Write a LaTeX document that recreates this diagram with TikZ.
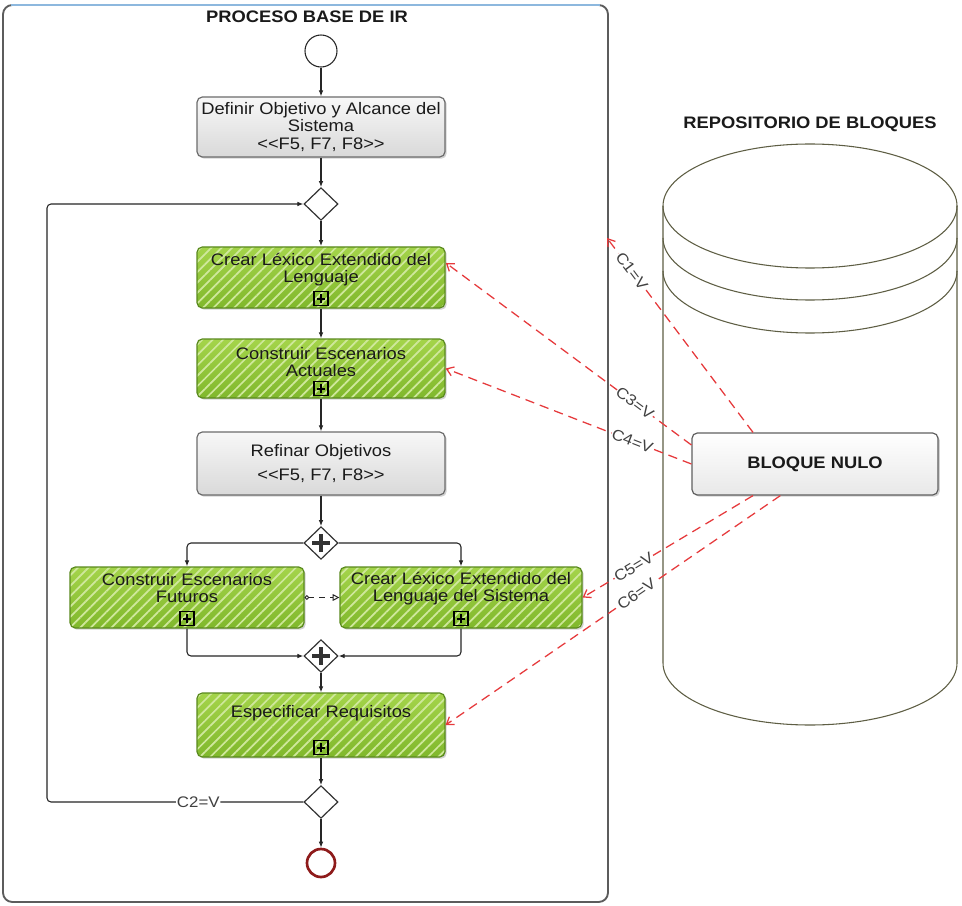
\documentclass[tikz,border=0pt]{standalone}
\usepackage{fontspec}
\setmainfont{Liberation Sans}[FakeStretch=1.1]
\usetikzlibrary{arrows.meta,shapes.geometric,shadows,patterns.meta}
\definecolor{txtc}{HTML}{1A1A1A}
\definecolor{greenA}{HTML}{A4D44A}
\definecolor{greenB}{HTML}{80B82C}
\definecolor{greenBd}{HTML}{5A8A1E}
\definecolor{greenStripe}{HTML}{CFE89C}
\definecolor{reddash}{HTML}{E63A3C}
\definecolor{poolgray}{HTML}{5C5C5C}
\definecolor{poolblue}{HTML}{8DB8DE}
\definecolor{cylc}{HTML}{5E5E44}
\definecolor{endred}{HTML}{8E1B1B}
\newcommand\flist{<\kern0pt<F5, F7, F8>\kern0pt>}
\begin{document}
\begin{tikzpicture}[x=0.75pt,y=-0.75pt,
  txt/.style={font=\fontsize{12.5}{12.8}\selectfont, text=txtc, align=center, inner sep=0pt},
  titletxt/.style={font=\fontsize{12.5}{13}\selectfont\bfseries, text=txtc, inner sep=0pt},
  boxshadow/.style={drop shadow={shadow xshift=1.3pt, shadow yshift=-1.3pt, opacity=0.35}},
  greentask/.style={rounded corners=4pt, draw=greenBd, line width=0.9pt, boxshadow,
     preaction={top color=greenA, bottom color=greenB},
     pattern={Lines[angle=45,distance=5.5pt,line width=1.3pt]}, pattern color=greenStripe,
     minimum width=186pt, minimum height=45pt, inner sep=0pt},
  graytask/.style={rounded corners=4pt, draw=gray!85!black, line width=0.9pt, boxshadow,
     top color=gray!6, bottom color=gray!30, minimum width=186pt, minimum height=45pt,
     txt},
  bntask/.style={rounded corners=4pt, draw=gray!75!black, line width=0.9pt, boxshadow,
     top color=white, bottom color=gray!18, minimum width=184.5pt, minimum height=46.5pt,
     txt},
  plusbox/.style={draw=black, line width=0.9pt, minimum size=10.5pt, inner sep=0pt,
     path picture={\draw[line width=1.6pt]
        ([xshift=-3.3pt]path picture bounding box.center) -- ([xshift=3.3pt]path picture bounding box.center)
        ([yshift=-3.3pt]path picture bounding box.center) -- ([yshift=3.3pt]path picture bounding box.center);}},
  gw/.style={diamond, draw=black!80, line width=0.9pt, fill=white, minimum width=25.5pt,
     minimum height=24.5pt, inner sep=0pt},
  pgw/.style={gw, path picture={\draw[line width=2.6pt]
        ([xshift=-6.5pt]path picture bounding box.center) -- ([xshift=6.5pt]path picture bounding box.center)
        ([yshift=-6.5pt]path picture bounding box.center) -- ([yshift=6.5pt]path picture bounding box.center);}},
  startev/.style={circle, draw=black!85, line width=0.8pt, fill=white, minimum size=24pt, inner sep=0pt},
  endev/.style={circle, draw=endred, line width=2pt, fill=white, minimum size=21pt, inner sep=0pt},
  flow/.style={draw=black!85, line width=0.8pt, -{Latex[length=4.5pt,width=3.5pt]}},
  reddash/.style={draw=reddash, line width=0.95pt, dash pattern=on 7pt off 4.5pt,
     -{Straight Barb[length=5pt,width=7pt]}},
  clab/.style={font=\fontsize{11.5}{12}\selectfont, text=black!75, fill=white, inner sep=0.6pt, sloped}
]
\useasboundingbox (0,0) rectangle (962,905);
\fill[white] (0,0) rectangle (962,905);
% pool
\draw[poolgray, line width=1.4pt, rounded corners=7pt] (3,5) rectangle (608,902);
\draw[poolblue, line width=1.4pt] (11,5) -- (600,5);
\node[titletxt] (ptitle) at (307,17) {PROCESO BASE DE IR};
\node[titletxt] (rtitle) at (810,124) {REPOSITORIO DE BLOQUES};
% cylinder
\draw[cylc, line width=0.8pt] (663,206) -- (663,663) arc[start angle=180,end angle=0,x radius=147,y radius=62] -- (957,206);
\draw[cylc, line width=0.8pt] (810,206) ellipse [x radius=147, y radius=62];
\draw[cylc, line width=0.8pt] (663,238) arc[start angle=180,end angle=0,x radius=147,y radius=62];
\draw[cylc, line width=0.8pt] (663,271) arc[start angle=180,end angle=0,x radius=147,y radius=62];
% process nodes
\node[startev] (S) at (321,51) {};
\node[graytask] (T1) at (321,127) {Definir Objetivo y Alcance del\\Sistema\\\flist};
\node[gw] (G1) at (321,204) {};
\node[greentask, minimum height=45.75pt] (T2) at (321,277.5) {};
\node[txt] (T2t) at (321,270) {Crear Léxico Extendido del\\Lenguaje};
\node[plusbox] (T2p) at ([yshift=7.5pt]T2.south) {};
\node[greentask, minimum height=44.25pt] (T3) at (321,368.5) {};
\node[txt] (T3t) at (321,362) {Construir Escenarios\\Actuales};
\node[plusbox] (T3p) at ([yshift=7.5pt]T3.south) {};
\node[graytask, minimum height=47.25pt] (T4) at (321,463.5) {Refinar Objetivos\\[5pt]\flist};
\node[pgw] (P1) at (321,543) {};
\node[greentask, minimum width=175.5pt, minimum height=45.75pt] (T5) at (187,597.5) {};
\node[txt] (T5t) at (187,588) {Construir Escenarios\\Futuros};
\node[plusbox] (T5p) at ([yshift=7.5pt]T5.south) {};
\node[greentask, minimum width=181.5pt, minimum height=45.75pt] (T6) at (461,597.5) {};
\node[txt] (T6t) at (461,589) {Crear Léxico Extendido del\\Lenguaje del Sistema};
\node[plusbox] (T6p) at ([yshift=7.5pt]T6.south) {};
\node[pgw] (P2) at (321,656) {};
\node[greentask, minimum height=48pt] (T7) at (321,725) {};
\node[txt] (T7t) at (321,713) {Especificar Requisitos};
\node[plusbox] (T7p) at ([yshift=7.5pt]T7.south) {};
\node[gw] (G2) at (321,802) {};
\node[endev] (E) at (321,863) {};
\node[bntask] (BN) at (815,464) {\bfseries BLOQUE NULO};
\coordinate (C1end) at (607,238);
% sequence flows
\draw[flow] (S) -- (T1);
\draw[flow] (T1) -- (G1);
\draw[flow] (G1) -- (T2);
\draw[flow] (T2.south) -- (T3.north);
\draw[flow] (T3.south) -- (T4.north);
\draw[flow] (T4) -- (P1);
\draw[flow, rounded corners=3pt] (P1.west) -| (T5.north);
\draw[flow, rounded corners=3pt] (P1.east) -| (T6.north);
\draw[flow, rounded corners=3pt] (T5.south) |- (P2.west);
\draw[flow, rounded corners=3pt] (T6.south) |- (P2.east);
\draw[flow] (P2) -- (T7);
\draw[flow] (T7.south) -- (G2.north);
\draw[flow] (G2) -- (E);
\draw[flow, rounded corners=3pt] (G2.west) -- node[clab, pos=0.41] {C2=V} (47,802) -- (47,204) -- (G1.west);
% message flow
\draw[draw=black!85, line width=0.7pt, dash pattern=on 4pt off 4pt,
  {Circle[open,length=3.5pt,width=3.5pt]}-{Triangle[open,length=5pt,width=5pt]}] (T5.east) -- (T6.west);
% red conditional links
\draw[reddash] ([xshift=-46.5pt]BN.north) -- node[clab,pos=0.83] {C1=V} (C1end);
\draw[reddash] ([yshift=14.25pt]BN.west) -- node[clab,pos=0.23] {C3=V} ([yshift=10.9pt]T2.east);
\draw[reddash] (BN.west) -- node[clab,pos=0.24] {C4=V} (T3.east);
\draw[reddash] ([xshift=-46.5pt]BN.south) -- node[clab,pos=0.7] {C5=V} (T6.east);
\draw[reddash] ([xshift=-26pt]BN.south) -- node[clab,pos=0.43] {C6=V} (T7.east);
\end{tikzpicture}
\end{document}
